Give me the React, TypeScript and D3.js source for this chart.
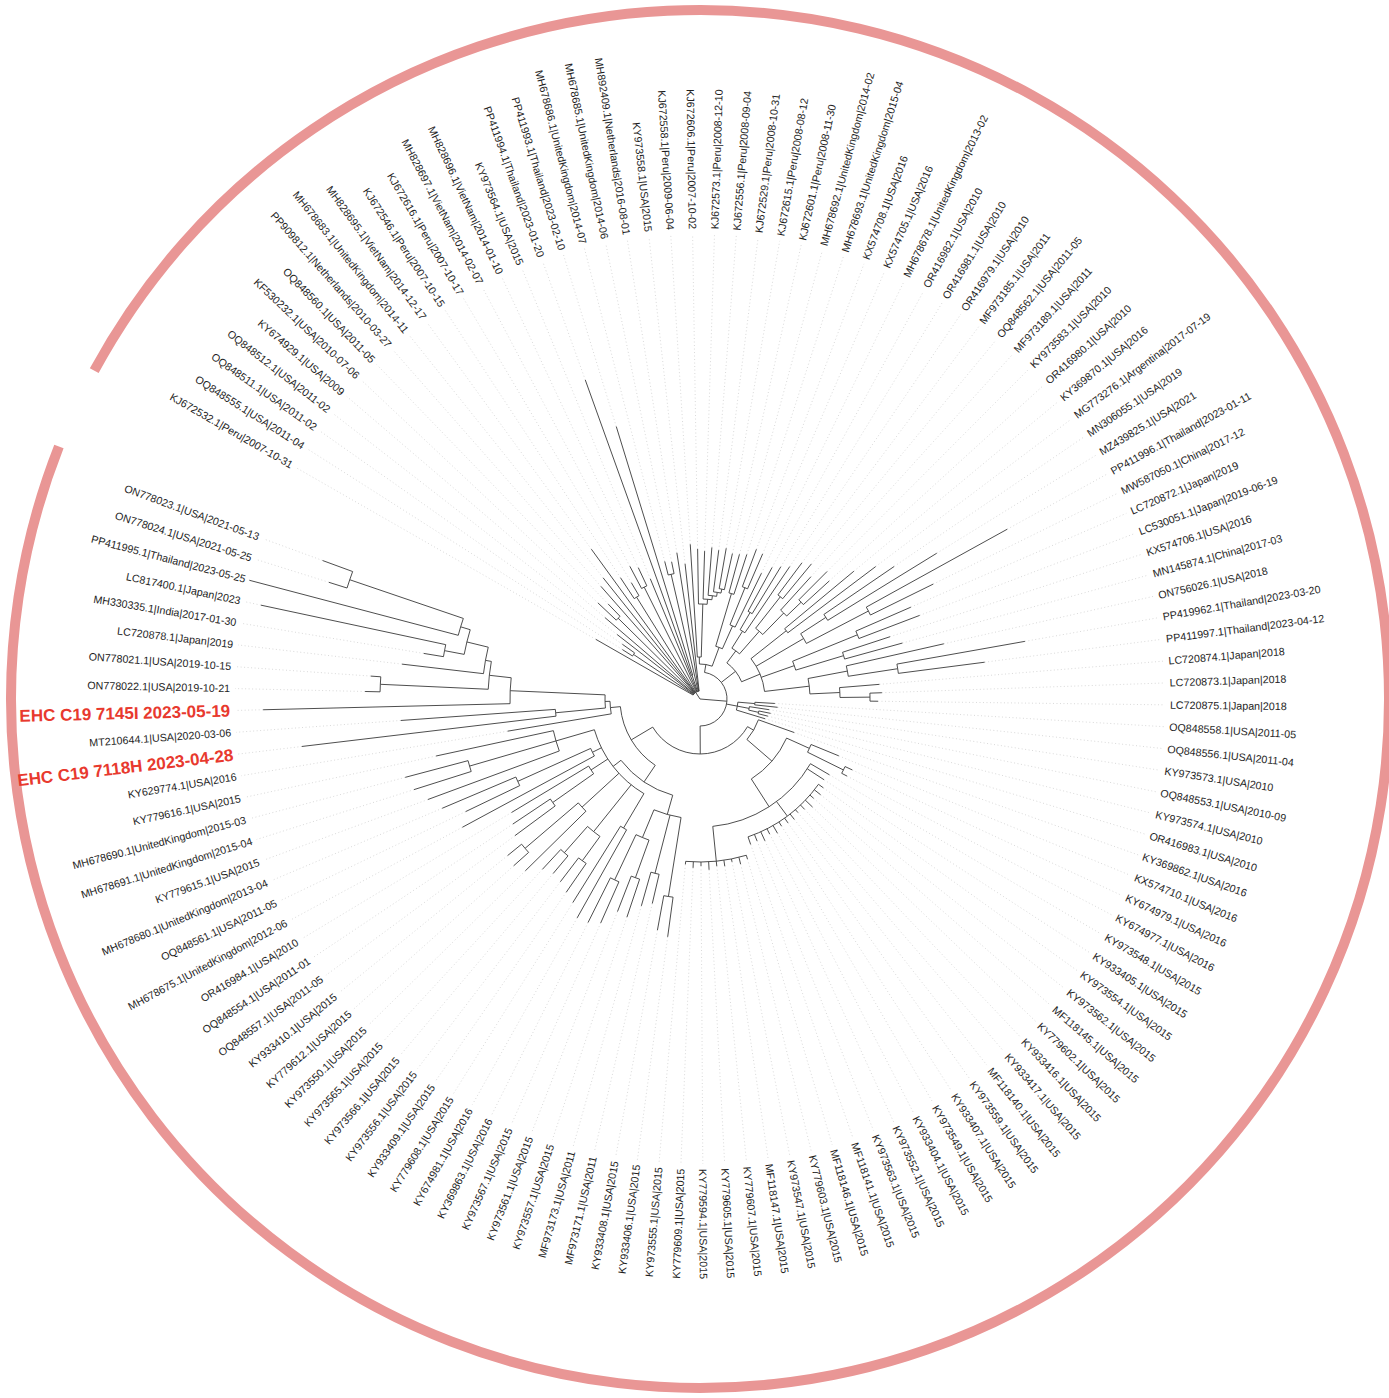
import React from "react";
import * as d3 from "d3";

// ---------------- DATA ----------------
const TIP_LABELS: string[] = [
  "KJ672532.1|Peru|2007-10-31", "OQ848555.1|USA|2011-04", "OQ848511.1|USA|2011-02", "OQ848512.1|USA|2011-02",
  "KY674929.1|USA|2009", "KF530232.1|USA|2010-07-06", "OQ848560.1|USA|2011-05", "PP909812.1|Netherlands|2010-03-27",
  "MH678683.1|UnitedKingdom|2014-11", "MH828695.1|VietNam|2014-12-17", "KJ672546.1|Peru|2007-10-15", "KJ672616.1|Peru|2007-10-17",
  "MH828697.1|VietNam|2014-02-07", "MH828696.1|VietNam|2014-01-10", "KY973564.1|USA|2015", "PP411994.1|Thailand|2023-01-20",
  "PP411993.1|Thailand|2023-02-10", "MH678686.1|UnitedKingdom|2014-07", "MH678685.1|UnitedKingdom|2014-06", "MH892409.1|Netherlands|2016-08-01",
  "KY973558.1|USA|2015", "KJ672558.1|Peru|2009-06-04", "KJ672606.1|Peru|2007-10-02", "KJ672573.1|Peru|2008-12-10",
  "KJ672556.1|Peru|2008-09-04", "KJ672529.1|Peru|2008-10-31", "KJ672615.1|Peru|2008-08-12", "KJ672601.1|Peru|2008-11-30",
  "MH678692.1|UnitedKingdom|2014-02", "MH678693.1|UnitedKingdom|2015-04", "KX574708.1|USA|2016", "KX574705.1|USA|2016",
  "MH678678.1|UnitedKingdom|2013-02", "OR416982.1|USA|2010", "OR416981.1|USA|2010", "OR416979.1|USA|2010",
  "MF973185.1|USA|2011", "OQ848562.1|USA|2011-05", "MF973189.1|USA|2011", "KY973583.1|USA|2010",
  "OR416980.1|USA|2010", "KY369870.1|USA|2016", "MG773276.1|Argentina|2017-07-19", "MN306055.1|USA|2019",
  "MZ439825.1|USA|2021", "PP411996.1|Thailand|2023-01-11", "MW587050.1|China|2017-12", "LC720872.1|Japan|2019",
  "LC530051.1|Japan|2019-06-19", "KX574706.1|USA|2016", "MN145874.1|China|2017-03", "ON756026.1|USA|2018",
  "PP419962.1|Thailand|2023-03-20", "PP411997.1|Thailand|2023-04-12", "LC720874.1|Japan|2018", "LC720873.1|Japan|2018",
  "LC720875.1|Japan|2018", "OQ848558.1|USA|2011-05", "OQ848556.1|USA|2011-04", "KY973573.1|USA|2010",
  "OQ848553.1|USA|2010-09", "KY973574.1|USA|2010", "OR416983.1|USA|2010", "KY369862.1|USA|2016",
  "KX574710.1|USA|2016", "KY674979.1|USA|2016", "KY674977.1|USA|2016", "KY973548.1|USA|2015",
  "KY933405.1|USA|2015", "KY973554.1|USA|2015", "KY973562.1|USA|2015", "MF118145.1|USA|2015",
  "KY779602.1|USA|2015", "KY933416.1|USA|2015", "KY933417.1|USA|2015", "MF118140.1|USA|2015",
  "KY973559.1|USA|2015", "KY933407.1|USA|2015", "KY973549.1|USA|2015", "KY933404.1|USA|2015",
  "KY973552.1|USA|2015", "KY973563.1|USA|2015", "MF118141.1|USA|2015", "MF118146.1|USA|2015",
  "KY779603.1|USA|2015", "KY973547.1|USA|2015", "MF118147.1|USA|2015", "KY779607.1|USA|2015",
  "KY779605.1|USA|2015", "KY779594.1|USA|2015", "KY779609.1|USA|2015", "KY973555.1|USA|2015",
  "KY933406.1|USA|2015", "KY933408.1|USA|2015", "MF973171.1|USA|2011", "MF973173.1|USA|2011",
  "KY973557.1|USA|2015", "KY973561.1|USA|2015", "KY973567.1|USA|2015", "KY369863.1|USA|2016",
  "KY674981.1|USA|2016", "KY779608.1|USA|2015", "KY933409.1|USA|2015", "KY973556.1|USA|2015",
  "KY973566.1|USA|2015", "KY973565.1|USA|2015", "KY973550.1|USA|2015", "KY779612.1|USA|2015",
  "KY933410.1|USA|2015", "OQ848557.1|USA|2011-05", "OQ848554.1|USA|2011-01", "OR416984.1|USA|2010",
  "MH678675.1|UnitedKingdom|2012-06", "OQ848561.1|USA|2011-05", "MH678680.1|UnitedKingdom|2013-04", "KY779615.1|USA|2015",
  "MH678691.1|UnitedKingdom|2015-04", "MH678690.1|UnitedKingdom|2015-03", "KY779616.1|USA|2015", "KY629774.1|USA|2016",
  "EHC C19 7118H 2023-04-28", "MT210644.1|USA|2020-03-06", "EHC C19 7145I 2023-05-19", "ON778022.1|USA|2019-10-21",
  "ON778021.1|USA|2019-10-15", "LC720878.1|Japan|2019", "MH330335.1|India|2017-01-30", "LC817400.1|Japan|2023",
  "PP411995.1|Thailand|2023-05-25", "ON778024.1|USA|2021-05-25", "ON778023.1|USA|2021-05-13",
];

// root-to-tip distance of every tip (same order as TIP_LABELS), x 1e-3 subst/site
const TIP_DEPTH: number[] = [
  120, 92, 95, 105, 125, 140, 132, 150, 155, 185,
  145, 135, 150, 145, 130, 339, 285, 142, 140, 148,
  136, 155, 150, 148, 152, 150, 153, 149, 150, 152,
  160, 158, 140, 150, 155, 160, 170, 175, 165, 180,
  175, 200, 220, 235, 278, 351, 260, 230, 235, 200,
  210, 250, 330, 287, 180, 182, 178, 75, 78, 70,
  72, 70, 68, 100, 150, 168, 166, 150, 148, 152,
  154, 151, 156, 152, 150, 153, 152, 151, 155, 152,
  156, 153, 154, 167, 170, 166, 169, 168, 171, 167,
  169, 166, 240, 235, 210, 215, 230, 228, 245, 250,
  251, 240, 235, 230, 228, 232, 245, 250, 248, 230,
  225, 220, 270, 260, 280, 290, 300, 305, 270, 195,
  401, 300, 437, 335, 330, 300, 280, 449, 466, 389,
  402,
];

const HIGHLIGHTED: string[] = ["EHC C19 7118H 2023-04-28", "EHC C19 7145I 2023-05-19"];

// topology: internal node = [node depth, ...children]; a child number is a 1-based tip index
type TreeNode = number | any[];
const TREE: TreeNode = [0,
  [8, 1, [80, 2, 3], 4, 5, [115, 6, 7], 8, 9, 10, [120, 11, 12], [125, 13, 14], 15, [25, 16, 17], [128, 18, 19], 20, 21],
  [27,
    [35,
      [42, 22, [95, 23, [100, 24, [104, 25, [108, 26, [112, 27, 28]]]]]],
      [55, [110, 29, 30], [80, [120, 31, 32], 33]]],
    [45,
      [60, [80, [100, 34, 35], 36], [90, [130, 37, 38], [120, 39, [140, 40, 41]]]],
      [65, [110, 42, 43], [120, [150, 44, 45], [190, 46, 47]], [100, [170, 48, 49], [150, 50, 51]],
        [110, [150, 52, [200, 53, 54]], [140, 55, [170, 56, 57]]]]],
    [38, [55, 58, 59], [50, 60, [60, 61, 62]], 63],
    [55,
      [62, 64, [95, [120, 65, [160, 66, 67]],
        [128, 68, 69, [146, 70, 71, 72, 73, 74, 75, 76, 77, 78, 79, 80, 81, 82, 83], [163, 84, 85, 86, 87, 88, 89, 90, 91, 92]]]],
      [80,
        [100,
          [120, [200, 93, 94], [180, 95, 96], [150, [190, 97, 98], [200, 99, 100]]],
          [110, [150, 101, 102], [170, [200, 103, 104], [205, 105, 106]], [160, 107, [230, 108, 109]],
            [130, [180, 110, 111], 112], [120, 113, [200, 114, 115]], [150, 116, [240, 117, 118], 119]]],
        [90, 120, [95, [145, 121, 122], [190, 123, [212, [320, 124, 125], [218, 126, [240, [260, 127, 128], [250, 129, [370, 130, 131]]]]]]]]]]]];

// ---------------- LAYOUT ----------------
const W = 1389, H = 1398;
const CX = 700, CY = 699;
const TREE_R = 466;
const LABEL_R = 470;
const ARC_R = 689;
const ANGLE_START = 209.8; // degrees, clockwise from +x
const OPEN_ANGLE = 9.65;

const rad = (a: number) => (a * Math.PI) / 180;

export default function App() {
  const n = TIP_LABELS.length;
  const angle = d3.scaleLinear().domain([0, n - 1]).range([ANGLE_START, ANGLE_START + 360 - OPEN_ANGLE]);
  const rScale = d3.scaleLinear().domain([0, d3.max(TIP_DEPTH) as number]).range([0, TREE_R]);
  const pt = (a: number, r: number) => [CX + r * Math.cos(rad(a)), CY + r * Math.sin(rad(a))];

  const segs: string[] = [];
  const walk = (node: TreeNode, parentDepth: number): { a: number; d: number } => {
    if (typeof node === "number") {
      const a = angle(node - 1);
      const d = TIP_DEPTH[node - 1];
      const p0 = pt(a, rScale(parentDepth)), p1 = pt(a, rScale(d));
      segs.push(`M${p0[0]},${p0[1]}L${p1[0]},${p1[1]}`);
      return { a, d };
    }
    const d = node[0] as number;
    const kids = (node.slice(1) as TreeNode[]).map((c) => walk(c, d));
    const a1 = kids[0].a, a2 = kids[kids.length - 1].a;
    const a = (a1 + a2) / 2;
    const r = rScale(d);
    if (r > 0) {
      const p = d3.path();
      p.arc(CX, CY, r, rad(a1), rad(a2), false);
      segs.push(p.toString());
      const p0 = pt(a, rScale(parentDepth)), p1 = pt(a, r);
      segs.push(`M${p0[0]},${p0[1]}L${p1[0]},${p1[1]}`);
    }
    return { a, d };
  };
  walk(TREE, 0);

  const step = (360 - OPEN_ANGLE) / (n - 1);
  const hl = d3.path();
  hl.arc(CX, CY, ARC_R, rad(ANGLE_START - step / 2), rad(ANGLE_START + 360 - OPEN_ANGLE + step / 2), false);

  return (
    <svg width={W} height={H} style={{ position: "absolute", left: 0, top: 0, background: "#fff" }}>
      <rect width={W} height={H} fill="#fff" />
      <path d={hl.toString()} fill="none" stroke="#e99695" strokeWidth={10} />
      <g>
        {TIP_LABELS.map((lab, i) => {
          const a = angle(i);
          const p0 = pt(a, rScale(TIP_DEPTH[i]));
          const p1 = pt(a, TREE_R - 1);
          return (
            <line key={"d" + i} x1={p0[0]} y1={p0[1]} x2={p1[0]} y2={p1[1]}
              stroke="#c8c8c8" strokeWidth={0.7} strokeDasharray="1,2.5" />
          );
        })}
      </g>
      <path d={segs.join("")} fill="none" stroke="#3a3a3a" strokeWidth={0.9} />
      <g fontFamily="'Liberation Sans', Arial, sans-serif">
        {TIP_LABELS.map((lab, i) => {
          const a = angle(i);
          const p = pt(a, LABEL_R);
          const flip = Math.cos(rad(a)) < 0;
          const hi = HIGHLIGHTED.includes(lab);
          return (
            <text key={"t" + i}
              transform={`translate(${p[0]},${p[1]}) rotate(${flip ? a + 180 : a})`}
              textAnchor={flip ? "end" : "start"} dy="0.35em"
              fontSize={hi ? 17 : 10.7} fontWeight={hi ? "bold" : "normal"}
              fill={hi ? "#e8392e" : "#1e1e1e"}>
              {lab}
            </text>
          );
        })}
      </g>
    </svg>
  );
}
